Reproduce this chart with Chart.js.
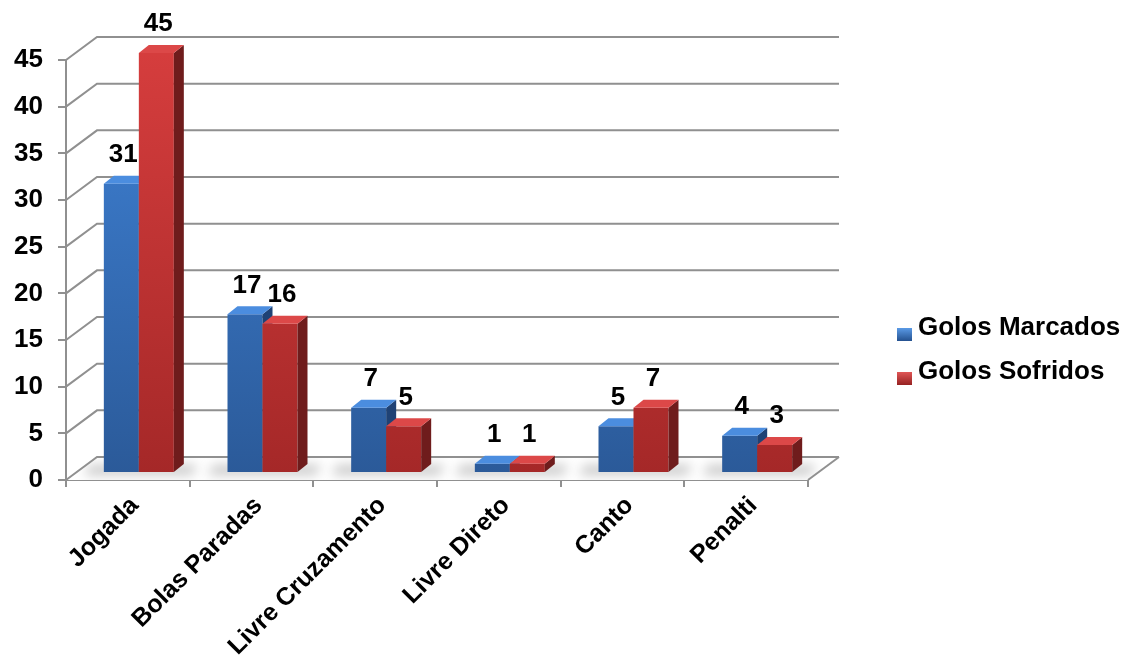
<!DOCTYPE html>
<html>
<head>
<meta charset="utf-8">
<script src="https://cdn.jsdelivr.net/npm/chart.js@4.4.0/dist/chart.umd.min.js"></script>
<style>
  html, body { margin: 0; padding: 0; background: #ffffff; }
  #wrap { width: 1127px; height: 670px; position: relative; }
</style>
</head>
<body>
<div id="wrap"><canvas id="chart" width="1127" height="670"></canvas></div>
<script>
// Goal types and counts
const categories = ['Jogada', 'Bolas Paradas', 'Livre Cruzamento', 'Livre Direto', 'Canto', 'Penalti'];
const golosMarcados = [31, 17, 7, 1, 5, 4];
const golosSofridos = [45, 16, 5, 1, 7, 3];
const seriesNames = ['Golos Marcados', 'Golos Sofridos'];
const yMin = 0, yMax = 45, yStep = 5;

const FONT = "'Liberation Sans', Arial, sans-serif";
const GRID = '#909090';

// depth of the back wall and of the bars (perspective offsets)
const WALL_DX = 31, WALL_DY = -23;
const BAR_DX = 11, BAR_DY = -7;
const SIDE_DX = 10, SIDE_DY = -8;

const palette = [
  { top: '#3f82d6', bottom: '#2b5a99', side: '#1f4275', cap: '#4b8ddf', key: ['#5a9ae6', '#24518f'] },
  { top: '#d53d3d', bottom: '#a52828', side: '#6f1c1c', cap: '#dc4848', key: ['#e05656', '#962222'] }
];

function frontFill(i) {
  return function (c) {
    const a = c.chart.chartArea;
    if (!a) return palette[i].top;
    const g = c.chart.ctx.createLinearGradient(0, a.top, 0, a.bottom);
    g.addColorStop(0, palette[i].top);
    g.addColorStop(1, palette[i].bottom);
    return g;
  };
}

const scene3d = {
  id: 'scene3d',
  beforeDatasetsDraw(chart) {
    const { ctx, chartArea: a, scales: { y } } = chart;
    const y0 = y.getPixelForValue(yMin);

    // floor
    ctx.save();
    ctx.beginPath();
    ctx.moveTo(a.left, y0);
    ctx.lineTo(a.right, y0);
    ctx.lineTo(a.right + WALL_DX, y0 + WALL_DY);
    ctx.lineTo(a.left + WALL_DX, y0 + WALL_DY);
    ctx.closePath();
    ctx.fillStyle = '#ffffff';
    ctx.fill();
    ctx.clip();
    // soft shadows on the floor around each pair of bars
    const m0 = chart.getDatasetMeta(0), m1 = chart.getDatasetMeta(1);
    ctx.filter = 'blur(6px)';
    ctx.fillStyle = 'rgba(0,0,0,0.22)';
    m0.data.forEach((el, k) => {
      const e1 = m1.data[k];
      const l = el.x - el.width / 2 + BAR_DX - 20;
      const r = e1.x + e1.width / 2 + BAR_DX + SIDE_DX + 8;
      ctx.beginPath();
      ctx.moveTo(l, y0 + BAR_DY + 2);
      ctx.lineTo(r, y0 + BAR_DY + 2);
      ctx.lineTo(r + 6, y0 + BAR_DY - 8);
      ctx.lineTo(l + 6, y0 + BAR_DY - 8);
      ctx.closePath();
      ctx.fill();
    });
    ctx.restore();

    // walls: back gridlines and left-wall diagonals
    ctx.save();
    ctx.strokeStyle = GRID;
    ctx.lineWidth = 2;
    y.ticks.forEach(t => {
      const py = y.getPixelForValue(t.value);
      ctx.beginPath();
      ctx.moveTo(a.left, py);
      ctx.lineTo(a.left + WALL_DX, py + WALL_DY);
      ctx.lineTo(a.right + WALL_DX, py + WALL_DY);
      ctx.stroke();
    });
    // right edge of the floor
    ctx.beginPath();
    ctx.moveTo(a.right, y0);
    ctx.lineTo(a.right + WALL_DX, y0 + WALL_DY);
    ctx.stroke();
    ctx.restore();

    // bars: front face, side and top, one series after the other
    ctx.save();
    ctx.translate(BAR_DX, BAR_DY);
    chart.data.datasets.forEach((ds, di) => {
      const meta = chart.getDatasetMeta(di);
      const p = palette[di];
      meta.data.forEach(el => {
        const l = el.x - el.width / 2, r = el.x + el.width / 2;
        const top = el.y, base = el.base;
        el.draw(ctx);
        // side face
        ctx.fillStyle = p.side;
        ctx.beginPath();
        ctx.moveTo(r, top);
        ctx.lineTo(r + SIDE_DX, top + SIDE_DY);
        ctx.lineTo(r + SIDE_DX, base + SIDE_DY);
        ctx.lineTo(r, base);
        ctx.closePath();
        ctx.fill();
        // top face
        ctx.fillStyle = p.cap;
        ctx.beginPath();
        ctx.moveTo(l, top);
        ctx.lineTo(l + SIDE_DX, top + SIDE_DY);
        ctx.lineTo(r + SIDE_DX, top + SIDE_DY);
        ctx.lineTo(r, top);
        ctx.closePath();
        ctx.fill();
      });
    });
    ctx.restore();
    return false;
  },
  afterDraw(chart) {
    const { ctx } = chart;
    // value labels above the bars
    ctx.save();
    ctx.fillStyle = '#000';
    ctx.font = `bold 26px ${FONT}`;
    ctx.textAlign = 'center';
    ctx.textBaseline = 'middle';
    chart.data.datasets.forEach((ds, di) => {
      chart.getDatasetMeta(di).data.forEach((el, k) => {
        ctx.fillText(String(ds.data[k]), el.x + BAR_DX + SIDE_DX / 2 - 3, el.y + BAR_DY - 29);
      });
    });
    // legend
    const lx = 897, baselines = [335, 379];
    ctx.textAlign = 'left';
    ctx.textBaseline = 'alphabetic';
    chart.data.datasets.forEach((ds, di) => {
      const by = baselines[di];
      const g = ctx.createLinearGradient(0, by - 7, 0, by + 6);
      g.addColorStop(0, palette[di].key[0]);
      g.addColorStop(1, palette[di].key[1]);
      ctx.fillStyle = g;
      ctx.fillRect(lx, by - 7, 15, 13);
      ctx.fillStyle = '#000';
      ctx.fillText(ds.label, lx + 21, by);
    });
    ctx.restore();
  }
};

new Chart(document.getElementById('chart'), {
  type: 'bar',
  data: {
    labels: categories,
    datasets: [
      { label: seriesNames[0], data: golosMarcados, backgroundColor: frontFill(0), borderWidth: 0 },
      { label: seriesNames[1], data: golosSofridos, backgroundColor: frontFill(1), borderWidth: 0 }
    ]
  },
  options: {
    responsive: false,
    animation: false,
    devicePixelRatio: 1,
    datasets: { bar: { categoryPercentage: 0.566, barPercentage: 1 } },
    layout: { padding: { top: 60, right: 319, bottom: 0, left: 0 } },
    plugins: { legend: { display: false }, tooltip: { enabled: false } },
    scales: {
      x: {
        grid: { display: true, drawOnChartArea: false, drawTicks: true, tickLength: 7, color: GRID, lineWidth: 2, offset: true },
        border: { display: true, color: GRID, width: 2 },
        ticks: {
          autoSkip: false, maxRotation: 45, minRotation: 45, padding: 4, labelOffset: 7,
          color: '#000', font: { family: FONT, size: 25, weight: 'bold' }
        },
        afterFit(s) { s.height = 190; s.paddingLeft = 0; s.paddingRight = 0; }
      },
      y: {
        min: yMin, max: yMax,
        grid: { display: true, drawOnChartArea: false, drawTicks: true, tickLength: 8, color: GRID, lineWidth: 2 },
        border: { display: true, color: GRID, width: 2 },
        ticks: { stepSize: yStep, padding: 15, color: '#000', font: { family: FONT, size: 26, weight: 'bold' } },
        afterFit(s) { s.width = 66; }
      }
    }
  },
  plugins: [scene3d]
});
</script>
</body>
</html>
